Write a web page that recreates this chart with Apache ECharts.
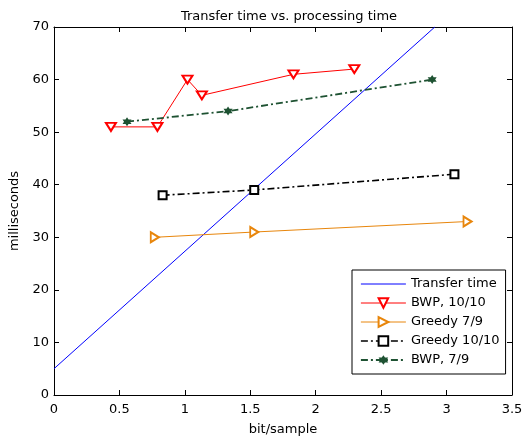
<!DOCTYPE html>
<html>
<head>
<meta charset="utf-8">
<script src="https://cdn.jsdelivr.net/npm/echarts@6/dist/echarts.min.js"></script>
<style>
  html, body { margin: 0; padding: 0; background: #fff; }
  #chart { width: 532px; height: 439px; }
</style>
</head>
<body>
<div id="chart"></div>
<script>
// Series data: [bit/sample, milliseconds]
const transferTime = [[0, 5], [2.91, 70]];
const bwp1010 = [[0.435, 51], [0.79, 51], [1.02, 60], [1.13, 57], [1.83, 61], [2.295, 62]];
const greedy79 = [[0.77, 30], [1.53, 31], [3.16, 33]];
const greedy1010 = [[0.83, 38], [1.53, 39], [3.06, 42]];
const bwp79 = [[0.558, 52], [1.33, 54], [2.89, 60]];

const seriesNames = ['Transfer time', 'BWP, 10/10', 'Greedy 7/9', 'Greedy 10/10', 'BWP, 7/9'];

// Six-pointed star marker
const hexagram = 'path://M0,-10 L2.887,-5 L8.66,-5 L5.774,0 L8.66,5 L2.887,5 L0,10 L-2.887,5 L-8.66,5 L-5.774,0 L-8.66,-5 L-2.887,-5 Z';

const font = 'DejaVu Sans, Verdana, sans-serif';
const textBase = { fontFamily: font, fontSize: 13, color: '#000' };

const chart = echarts.init(document.getElementById('chart'));

const axisCommon = {
  type: 'value',
  axisLine: { show: true, onZero: false, lineStyle: { color: '#000', width: 1 } },
  axisTick: { show: true, inside: true, length: 5, lineStyle: { color: '#000' } },
  splitLine: { show: false }
};

chart.setOption({
  animation: false,
  backgroundColor: '#fff',
  title: {
    text: 'Transfer time vs. processing time',
    left: 284, top: 5, textAlign: 'center',
    textStyle: Object.assign({ fontWeight: 'normal' }, textBase)
  },
  grid: { left: 54, right: 20, top: 27, bottom: 44, outerBoundsMode: 'none', containLabel: false },
  legend: {
    orient: 'vertical',
    left: 352, top: 270,
    data: [
      // plain line only, no marker in the key
      { name: seriesNames[0], itemStyle: { opacity: 0 } },
      seriesNames[1], seriesNames[2], seriesNames[3], seriesNames[4]
    ],
    backgroundColor: '#fff',
    borderColor: '#000', borderWidth: 1,
    padding: [7, 6, 7, 8],
    itemWidth: 45, itemHeight: 12, itemGap: 5,
    lineStyle: { width: 'inherit' },
    textStyle: Object.assign({ lineHeight: 14 }, textBase)
  },
  xAxis: [
    Object.assign({}, axisCommon, {
      min: 0, max: 3.5, interval: 0.5,
      name: 'bit/sample', nameLocation: 'middle', nameGap: 28,
      nameTextStyle: textBase,
      axisLabel: Object.assign({ margin: 8 }, textBase)
    }),
    Object.assign({}, axisCommon, {
      position: 'top', min: 0, max: 3.5, interval: 0.5,
      axisLabel: { show: false }
    })
  ],
  yAxis: [
    Object.assign({}, axisCommon, {
      min: 0, max: 70, interval: 10,
      name: 'milliseconds', nameLocation: 'middle', nameGap: 28,
      nameTextStyle: textBase,
      axisLabel: Object.assign({ margin: 5 }, textBase)
    }),
    Object.assign({}, axisCommon, {
      position: 'right', min: 0, max: 70, interval: 10,
      axisLabel: { show: false }
    })
  ],
  series: [
    {
      name: seriesNames[0], type: 'line', data: transferTime,
      showSymbol: false, symbol: 'none', clip: true,
      lineStyle: { color: '#0000ff', width: 1 }, itemStyle: { color: '#0000ff' }
    },
    {
      name: seriesNames[1], type: 'line', data: bwp1010,
      symbol: 'emptyTriangle', symbolSize: [10, 8], symbolRotate: 180,
      lineStyle: { color: '#ff0000', width: 1 },
      itemStyle: { color: '#ff0000', borderWidth: 1 }
    },
    {
      name: seriesNames[2], type: 'line', data: greedy79,
      symbol: 'emptyTriangle', symbolSize: [10, 8], symbolRotate: -90,
      lineStyle: { color: '#e8860c', width: 1 },
      itemStyle: { color: '#e8860c', borderWidth: 1 }
    },
    {
      name: seriesNames[3], type: 'line', data: greedy1010,
      symbol: 'emptyRect', symbolSize: 8,
      lineStyle: { color: '#000', width: 1.6, type: [7, 3, 2, 3] },
      itemStyle: { color: '#000', borderWidth: 2 }
    },
    {
      name: seriesNames[4], type: 'line', data: bwp79,
      symbol: hexagram, symbolSize: 9,
      lineStyle: { color: '#1e5232', width: 1.8, type: [7, 3, 2, 3] },
      itemStyle: { color: '#1e5232' }
    }
  ]
});
</script>
</body>
</html>
